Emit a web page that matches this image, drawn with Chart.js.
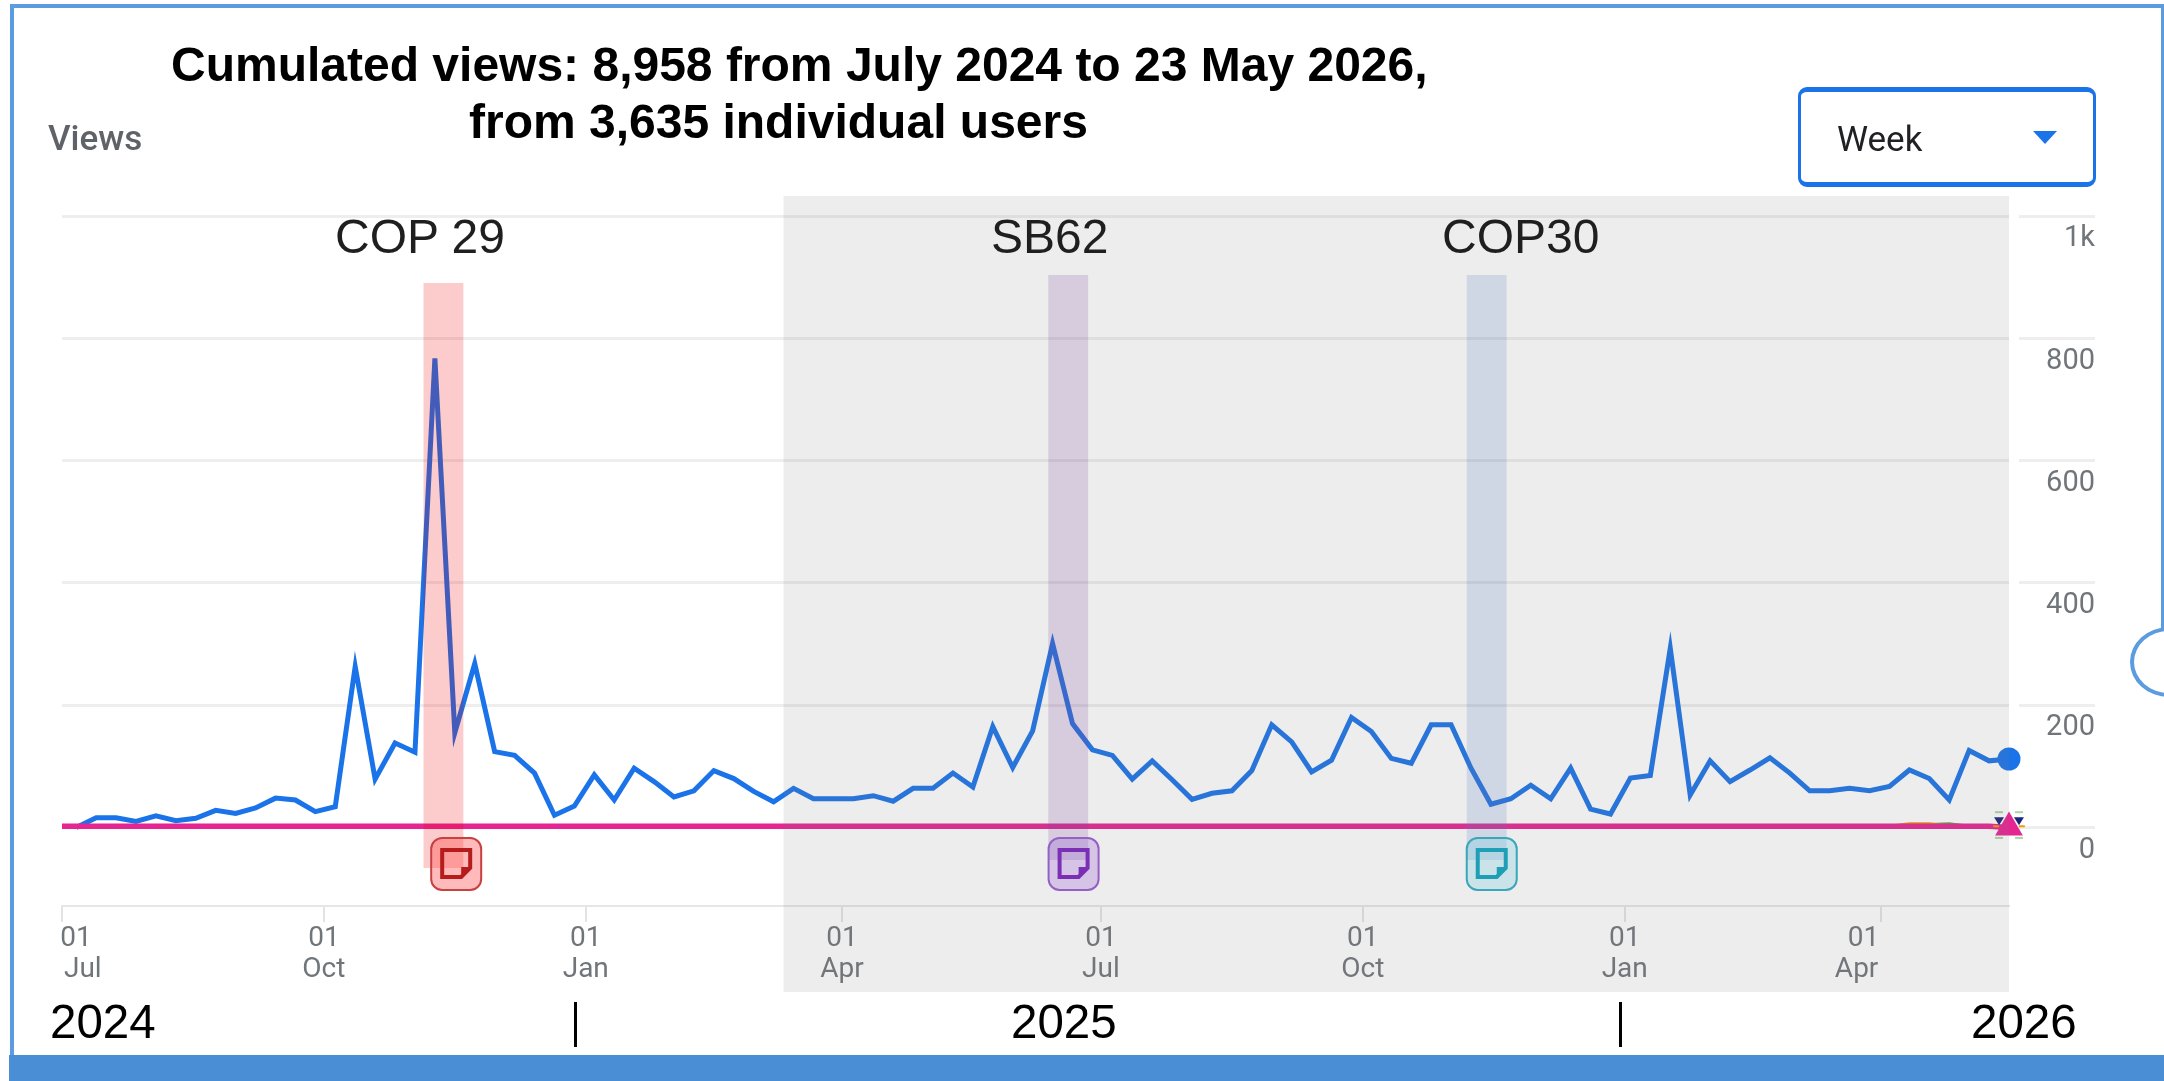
<!DOCTYPE html>
<html>
<head>
<meta charset="utf-8">
<script src="https://cdn.jsdelivr.net/npm/chart.js@4/dist/chart.umd.min.js"></script>
<style>
  html, body { margin: 0; padding: 0; background: #fff; overflow: hidden; }
  #wrap { position: relative; width: 2164px; height: 1081px; overflow: hidden; }
  canvas { position: absolute; left: 0; top: 0; }
  .t { position: absolute; white-space: nowrap; font-family: "Liberation Sans", Arial, sans-serif; color: #000; line-height: 1; }
  .title { font-weight: bold; font-size: 48px; }
  .ev { font-size: 48px; color: #1f1f1f; }
  .yr { font-size: 47.5px; }
  .bar { position: absolute; width: 3px; top: 1002px; height: 45px; background: #000; }
  #frameTop { position: absolute; left: 10px; right: 0; top: 4px; height: 4px; background: #5b9bdf; }
  #frameLeft { position: absolute; left: 10px; top: 4px; bottom: 0; width: 4px; background: #5b9bdf; }
  #frameRight { position: absolute; left: 2161px; top: 4px; height: 624px; width: 3px; background: #5b9bdf; }
  #frameLoop { position: absolute; left: 2130px; top: 627px; width: 70px; height: 62px; border: 4px solid #5b9bdf; border-radius: 50%; }
  #frameBottom { position: absolute; left: 9px; right: 0; top: 1055px; bottom: 0; background: #4a8ed6; }
  #select { position: absolute; left: 1798px; top: 87px; width: 292px; height: 90px; border: 3px solid #1a73e8; border-top-width: 5px; border-bottom-width: 5px; border-radius: 9px; }
  #select span { position: absolute; left: 36px; top: 27px; font: 35px Roboto, sans-serif; color: #202124; }
  #select i { position: absolute; left: 232px; top: 39px; border-left: 12px solid transparent; border-right: 12px solid transparent; border-top: 13px solid #1a73e8; }
</style>
</head>
<body>
<div id="wrap">
  <canvas id="viewsChart" width="2164" height="1081"></canvas>
  <div id="frameTop"></div><div id="frameLeft"></div><div id="frameRight"></div><div id="frameLoop"></div><div id="frameBottom"></div>
  <div class="t title" style="left:171px;top:41px">Cumulated views: 8,958 from July 2024 to 23 May 2026,</div>
  <div class="t title" style="left:469px;top:98px">from 3,635 individual users</div>
  <div class="t" style="left:48px;top:118px;font:500 35px Roboto,sans-serif;color:#5f6368">Views</div>
  <div id="select"><span>Week</span><i></i></div>
  <div class="t ev" style="left:335px;top:213px">COP 29</div>
  <div class="t ev" style="left:991px;top:213px">SB62</div>
  <div class="t ev" style="left:1442px;top:213px">COP30</div>
  <div class="t yr" style="left:50px;top:998px">2024</div>
  <div class="t yr" style="left:1011px;top:998px">2025</div>
  <div class="t yr" style="left:1971px;top:998px">2026</div>
  <div class="bar" style="left:574px"></div>
  <div class="bar" style="left:1619px"></div>
</div>
<script>
// weekly views, first week ends Sat 6 Jul 2024, last one Sat 16 May 2026
const views = [
  0, 16, 16, 10, 19, 11, 15, 28, 23, 32, 48, 45, 26, 34, 263, 79, 138, 123, 767, 155,
  268, 124, 118, 89, 20, 35, 86, 45, 97, 75, 50, 60, 93, 80, 59, 42, 64, 47, 47, 47,
  52, 43, 64, 64, 89, 66, 165, 98, 158, 301, 170, 127, 118, 79, 109, 78, 46, 56, 60, 93,
  168, 140, 91, 110, 180, 157, 113, 105, 168, 168, 97, 38, 47, 69, 47, 97, 30, 22, 81, 85,
  293, 53, 109, 75, 94, 114, 89, 60, 60, 64, 60, 67, 94, 80, 45, 126, 109, 112
];
// pink line, hardly leaves the baseline
const baseline = [
  2, 2, 2, 2, 2, 2, 2, 2, 2, 2, 2, 2, 2, 2, 2, 2, 2, 2, 2, 2,
  2, 2, 2, 2, 2, 2, 2, 2, 2, 2, 2, 2, 2, 2, 2, 2, 2, 2, 2, 2,
  2, 2, 2, 2, 2, 2, 2, 2, 2, 2, 2, 2, 2, 2, 2, 2, 2, 2, 2, 2,
  2, 2, 2, 2, 2, 2, 2, 2, 2, 2, 2, 2, 2, 2, 2, 2, 2, 2, 2, 2,
  2, 2, 2, 2, 2, 2, 2, 2, 2, 2, 2, 2, 2, 2, 2, 2, 2, 0
];
const orangeWeeks = [91, 92, 93, 94];
const orangeViews = [2, 6, 6, 2];
const greenWeeks = [92, 93, 94, 95];
const greenViews = [2, 5, 6, 2];
// small markers peeking out behind the end triangle
const navyMarkDays = [680.5, 687.5];
const navyMarkViews = [12, 12];
const orangeMarkDays = [679.5, 688.5];
const orangeMarkViews = [2, 2];
const greenMarkDays = [680.5, 687.5, 680.5, 687.5];
const greenMarkViews = [25, 25, -17, -17];

const firstWeekDay = 5;
const weekDays = views.map((_, i) => firstWeekDay + i * 7);

// days since 1 Jul 2024
const tickDays = [0, 92, 184, 274, 365, 457, 549, 639];
const tickLabels = [["01", "Jul"], ["01", "Oct"], ["01", "Jan"], ["01", "Apr"], ["01", "Jul"], ["01", "Oct"], ["01", "Jan"], ["01", "Apr"]];
const yTicks = [0, 200, 400, 600, 800, 1000];

const toPoints = (days, vals) => vals.map((v, i) => ({ x: days[i], y: v }));
const nbsp = (n) => "\u00a0".repeat(n);

// event bands, first and last day
const bands = [
  { from: 127, to: 141, top: 283, bottom: 868, color: "rgba(240,0,0,0.2)" },
  { from: 346.5, to: 360.5, top: 275, bottom: 860, color: "rgba(121,71,161,0.2)" },
  { from: 493.5, to: 507.5, top: 275, bottom: 860, color: "rgba(86,121,191,0.2)" },
];
const notes = [
  { day: 129.7, fill: "rgba(255,60,60,0.35)", line: "#b71c1c", edge: "#c94040" },
  { day: 346.6, fill: "rgba(150,90,210,0.28)", line: "#7b2fb5", edge: "#9460c4" },
  { day: 493.5, fill: "rgba(120,205,225,0.3)", line: "#1f9fb5", edge: "#3aa6b9" },
];

const overlayPlugin = {
  id: "overlays",
  afterDatasetsDraw(chart) {
    const { ctx, scales: { x, y }, chartArea } = chart;
    ctx.save();
    // end markers, they stick out of the chart area so the library would drop them
    ctx.fillStyle = "#1a237e";
    navyMarkDays.forEach((d, i) => {
      const px = x.getPixelForValue(d);
      const py = y.getPixelForValue(navyMarkViews[i]);
      ctx.beginPath();
      ctx.moveTo(px - 5, py - 3);
      ctx.lineTo(px + 5, py - 3);
      ctx.lineTo(px, py + 5);
      ctx.closePath();
      ctx.fill();
    });
    ctx.fillStyle = "#f29900";
    orangeMarkDays.forEach((d, i) => {
      ctx.fillRect(x.getPixelForValue(d) - 3, y.getPixelForValue(orangeMarkViews[i]) - 1, 6, 2);
    });
    ctx.fillStyle = "#a8d5a2";
    greenMarkDays.forEach((d, i) => {
      ctx.fillRect(x.getPixelForValue(d) - 4, y.getPixelForValue(greenMarkViews[i]) - 1, 8, 2);
    });
    // greyed out part
    ctx.fillStyle = "rgba(128,128,128,0.14)";
    const gx = x.getPixelForValue(253.5);
    ctx.fillRect(gx, 196, chartArea.right - gx, 992 - 196);
    bands.forEach((b) => {
      const l = x.getPixelForValue(b.from);
      ctx.fillStyle = b.color;
      ctx.fillRect(l, b.top, x.getPixelForValue(b.to) - l, b.bottom - b.top);
    });
    notes.forEach((n) => {
      const l = x.getPixelForValue(n.day);
      ctx.beginPath();
      ctx.roundRect(l, 838, 50, 52, 11);
      ctx.fillStyle = n.fill;
      ctx.fill();
      ctx.lineWidth = 2;
      ctx.strokeStyle = n.edge;
      ctx.stroke();
      // the note glyph
      ctx.beginPath();
      ctx.moveTo(l + 11, 850);
      ctx.lineTo(l + 39, 850);
      ctx.lineTo(l + 39, 868);
      ctx.lineTo(l + 30, 877);
      ctx.lineTo(l + 11, 877);
      ctx.closePath();
      ctx.lineWidth = 4;
      ctx.strokeStyle = n.line;
      ctx.stroke();
      // folded corner
      ctx.beginPath();
      ctx.moveTo(l + 39, 867);
      ctx.lineTo(l + 30, 867);
      ctx.lineTo(l + 30, 877);
      ctx.closePath();
      ctx.fillStyle = n.line;
      ctx.fill();
    });
    ctx.restore();
  },
};

new Chart(document.getElementById("viewsChart"), {
  type: "line",
  data: {
    datasets: [
      {
        label: "Views",
        data: toPoints(weekDays, views),
        borderColor: "#1a73e8",
        borderWidth: 5,
        tension: 0,
        order: 3,
        clip: false,
        pointRadius: (c) => (c.dataIndex === views.length - 1 ? 11.5 : 0),
        pointBackgroundColor: "#1a73e8",
        pointBorderWidth: 0,
      },
      {
        label: "Orange",
        data: toPoints(orangeWeeks.map((w) => weekDays[w]), orangeViews),
        borderColor: "#f29900",
        borderWidth: 3,
        pointRadius: 0,
        order: 2,
      },
      {
        label: "Green",
        data: toPoints(greenWeeks.map((w) => weekDays[w]), greenViews),
        borderColor: "#5aa84f",
        borderWidth: 3,
        pointRadius: 0,
        order: 2,
      },
      {
        label: "Baseline",
        // line starts at the left edge of the axis, not at the first week
        data: [{ x: 0, y: baseline[0] }, ...toPoints(weekDays, baseline)],
        borderColor: "#e52592",
        borderWidth: 5.5,
        order: 1,
        clip: false,
        pointStyle: "triangle",
        pointRadius: (c) => (c.dataIndex === baseline.length ? 16 : 0),
        pointBackgroundColor: "#e52592",
        pointBorderWidth: 0,
      },
    ],
  },
  options: {
    responsive: false,
    animation: false,
    layout: { padding: { left: 62, top: 216, right: 69, bottom: 1081 - 992 } },
    plugins: { legend: { display: false }, tooltip: { enabled: false } },
    scales: {
      x: {
        type: "linear",
        min: 0,
        max: 684,
        afterBuildTicks: (s) => { s.ticks = tickDays.map((v) => ({ value: v })); },
        afterFit: (s) => { s.height = 86; },
        grid: { drawOnChartArea: false, tickLength: 16, color: "#e3e3e3", lineWidth: 2 },
        border: { color: "#e6e6e6", width: 2 },
        ticks: {
          autoSkip: false,
          maxRotation: 0,
          padding: 2,
          color: "#70757a",
          font: { family: "Roboto", size: 28, lineHeight: 1.1 },
          // first label hangs right of its tick, last one left of it
          callback: (v) => {
            const i = tickDays.indexOf(v);
            const [day, month] = tickLabels[i];
            if (i === 0) return [nbsp(4) + day, nbsp(6) + month];
            if (i === tickDays.length - 1) return [day + nbsp(5), month + nbsp(7)];
            return [day, month];
          },
        },
      },
      y: {
        position: "right",
        min: -128.4,
        max: 1000,
        afterBuildTicks: (s) => { s.ticks = yTicks.map((v) => ({ value: v })); },
        afterFit: (s) => { s.width = 86; },
        grid: { color: "#eeeeee", lineWidth: 3, tickLength: 86, tickBorderDash: [0, 10, 80, 0], tickColor: "#eeeeee" },
        border: { display: false },
        ticks: {
          align: "start",
          crossAlign: "far",
          padding: -47,
          color: "#70757a",
          font: { family: "Roboto", size: 29, lineHeight: "17px" },
          // labels sit under their grid line
          callback: (v) => ["", v === 1000 ? "1k" : String(v)],
        },
      },
    },
  },
  plugins: [overlayPlugin],
});
</script>
</body>
</html>
